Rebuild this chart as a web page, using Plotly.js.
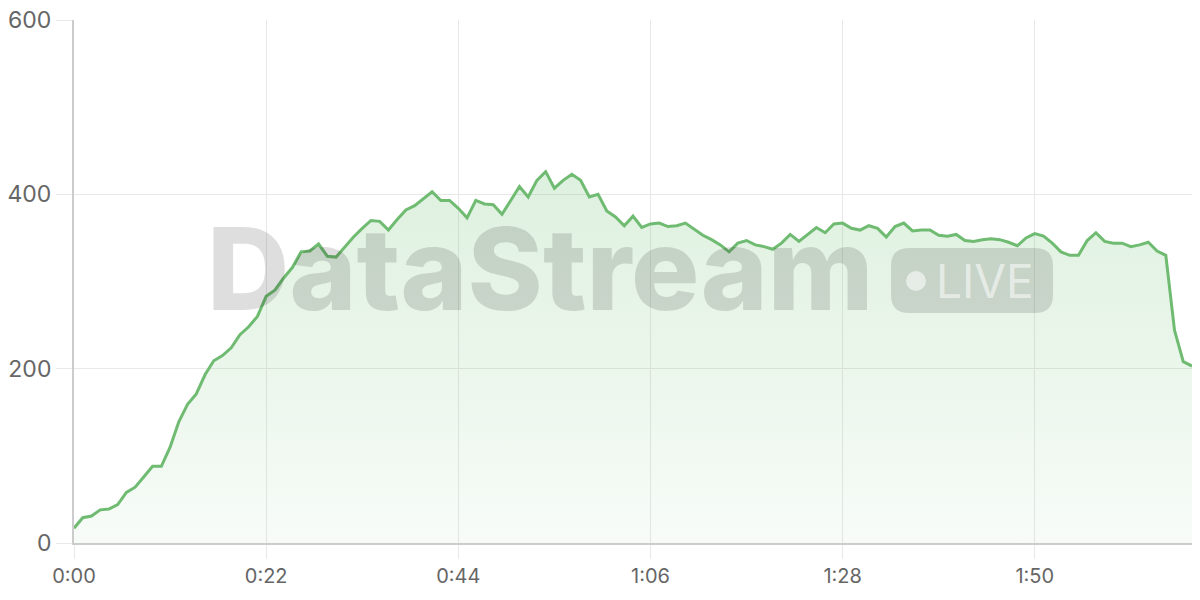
<!DOCTYPE html>
<html>
<head>
<meta charset="utf-8">
<script src="https://cdn.plot.ly/plotly-3.0.1.min.js"></script>
<style>html,body{margin:0;padding:0;background:#fff;}#chart{width:1200px;height:600px;}</style>
</head>
<body>
<div id="chart"></div>
<script>
// Elapsed seconds
const seconds = [];
for (let i = 0; i <= 128; i++) seconds.push(i);
// Values, one per second
const values = [
  17, 29, 31, 38, 39, 44, 58, 64, 76, 88,
  88, 110, 139, 159, 171, 193, 209, 215, 224, 239,
  248, 260, 283, 290, 304, 316, 334, 335, 343, 329,
  328, 340, 351, 361, 370, 369, 359, 371, 382, 387,
  395, 403, 393, 393, 384, 373, 393, 389, 388, 377,
  393, 409, 397, 416, 426, 407, 416, 423, 416, 397,
  400, 381, 374, 364, 375, 362, 366, 367, 363, 364,
  367, 360, 353, 348, 342, 334, 344, 347, 342, 340,
  337, 344, 354, 346, 354, 362, 356, 366, 367, 361,
  359, 364, 361, 351, 363, 367, 358, 359, 359, 353,
  352, 354, 347, 346, 348, 349, 348, 345, 341, 350,
  355, 352, 344, 334, 330, 330, 347, 356, 346, 344,
  344, 340, 342, 345, 335, 330, 244, 208, 203
];
const tickVals = [0, 22, 44, 66, 88, 110];
const tickText = ['0:00', '0:22', '0:44', '1:06', '1:28', '1:50'];
const yTicks = [0, 200, 400, 600];

const W = 1200, H = 600;
const M = {l: 74, r: 8, t: 20, b: 57};
const PW = W - M.l - M.r, PH = H - M.t - M.b;
const px = x => (x - M.l) / PW;
const py = y => (H - M.b - y) / PH;

function roundRect(x0, y0, x1, y1, r) {
  const X0 = px(x0), X1 = px(x1), Y0 = py(y1), Y1 = py(y0);
  const rx = r / PW, ry = r / PH;
  return `M ${X0+rx},${Y0} L ${X1-rx},${Y0} Q ${X1},${Y0} ${X1},${Y0+ry} L ${X1},${Y1-ry} Q ${X1},${Y1} ${X1-rx},${Y1} L ${X0+rx},${Y1} Q ${X0},${Y1} ${X0},${Y1-ry} L ${X0},${Y0+ry} Q ${X0},${Y0} ${X0+rx},${Y0} Z`;
}

const trace = {
  x: seconds, y: values, type: 'scatter', mode: 'lines',
  line: {color: '#70bb72', width: 3},
  fill: 'tozeroy',
  fillgradient: {
    type: 'vertical', start: 0, stop: 430,
    colorscale: [[0, 'rgba(102,187,106,0.05)'], [1, 'rgba(102,187,106,0.22)']]
  },
  hoverinfo: 'skip'
};

const font = 'Inter, "DejaVu Sans", sans-serif';
const layout = {
  width: W, height: H,
  margin: M,
  paper_bgcolor: '#ffffff', plot_bgcolor: '#ffffff',
  showlegend: false,
  font: {family: font, color: '#666666', size: 19},
  xaxis: {
    range: [0, 128], tickmode: 'array', tickvals: tickVals, ticktext: tickText,
    tickfont: {family: font, size: 20, color: '#666666'},
    showgrid: true, gridcolor: '#e8e8e8', gridwidth: 1,
    showline: true, linecolor: '#cccccc', linewidth: 2,
    ticks: 'outside', ticklen: 14, tickcolor: '#e8e8e8', tickwidth: 1,
    zeroline: false, fixedrange: true
  },
  yaxis: {
    range: [0, 600], tickmode: 'array', tickvals: yTicks,
    tickfont: {family: font, size: 23, color: '#666666'},
    showgrid: true, gridcolor: '#e8e8e8', gridwidth: 1,
    showline: true, linecolor: '#cccccc', linewidth: 2,
    ticks: 'outside', ticklen: 16, tickcolor: '#e8e8e8', tickwidth: 1,
    zeroline: false, fixedrange: true
  },
  shapes: [
    {type: 'path', xref: 'paper', yref: 'paper', layer: 'above',
     path: roundRect(891, 248, 1053, 313, 18),
     fillcolor: 'rgba(0,0,0,0.13)', line: {width: 0}},
    {type: 'circle', xref: 'paper', yref: 'paper', layer: 'above',
     x0: px(906), x1: px(926), y0: py(291), y1: py(271),
     fillcolor: 'rgba(255,255,255,0.55)', line: {width: 0}}
  ],
  annotations: [
    {text: 'DataStream', xref: 'paper', yref: 'paper', x: px(540), y: py(268),
     xanchor: 'center', yanchor: 'middle', showarrow: false,
     font: {family: font, size: 114, weight: 800, color: 'rgba(0,0,0,0.13)'}},
    {text: 'LIVE', xref: 'paper', yref: 'paper', x: px(985), y: py(281),
     xanchor: 'center', yanchor: 'middle', showarrow: false,
     font: {family: font, size: 46, weight: 400, color: 'rgba(255,255,255,0.55)'}}
  ]
};

Plotly.newPlot('chart', [trace], layout, {displayModeBar: false, staticPlot: true});
</script>
</body>
</html>
